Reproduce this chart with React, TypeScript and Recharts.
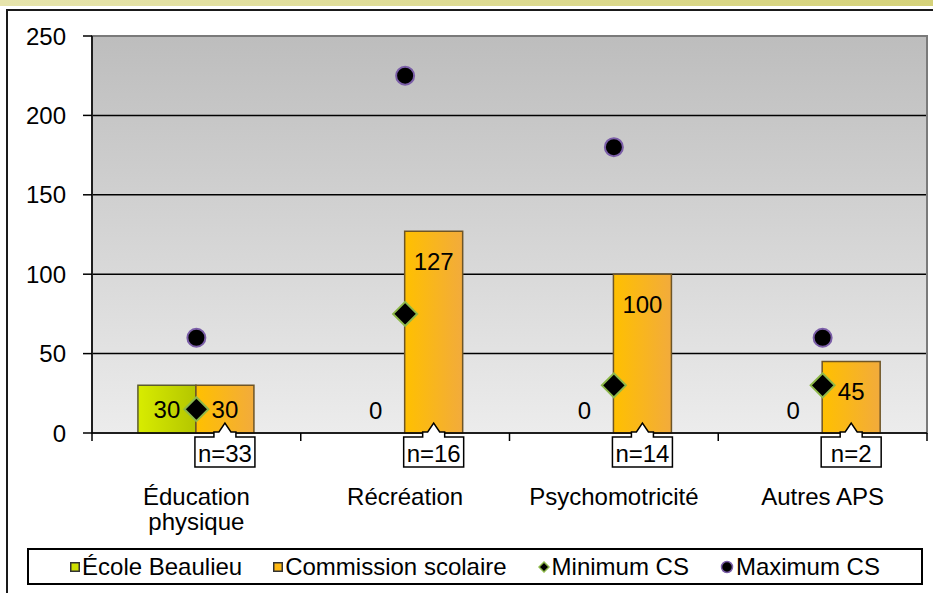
import React from 'react';
import {
  ComposedChart,
  Bar,
  Line,
  XAxis,
  YAxis,
  CartesianGrid,
  Legend,
  LabelList,
  ReferenceArea,
} from 'recharts';

const categories = ['Éducation\nphysique', 'Récréation', 'Psychomotricité', 'Autres APS'];
const ecoleBeaulieu = [30, 0, 0, 0];
const commissionScolaire = [30, 127, 100, 45];
const minimumCS = [15, 75, 30, 30];
const maximumCS = [60, 225, 180, 60];
const sampleSizes = ['n=33', 'n=16', 'n=14', 'n=2'];
const yTicks = [0, 50, 100, 150, 200, 250];
const legendOrder = ['ecole', 'commission', 'min', 'max'];

const data = categories.map((name, i) => ({
  name,
  ecole: ecoleBeaulieu[i],
  commission: commissionScolaire[i],
  min: minimumCS[i],
  max: maximumCS[i],
}));

const FONT = '"Liberation Sans", Arial, sans-serif';

const box = (p: any) => {
  const vb = p.viewBox || p;
  return { x: vb.x ?? p.x, y: vb.y ?? p.y, width: vb.width ?? p.width, height: vb.height ?? p.height };
};

// bar value labels: near the top inside the bar
const ValueLabel = (props: any) => {
  const { x, y, width, height } = box(props);
  if (!height) return null;
  const cx = x + width / 2;
  const cy = Math.min(y + 30, y + height / 2);
  return (
    <text x={cx} y={cy} textAnchor="middle" dominantBaseline="central" fontSize={24} fill="#000">
      {props.value}
    </text>
  );
};

// empty École bars get no rectangle, so their "0" is placed next to the Commission bar
const ZeroLabel = (props: any) => {
  const { x, y, width, height } = box(props);
  const v = ecoleBeaulieu[props.index];
  if (v !== 0) return null;
  return (
    <text x={x - width / 2} y={y + height - 23} textAnchor="middle" dominantBaseline="central" fontSize={24} fill="#000">
      {v}
    </text>
  );
};

// "n=.." callout pointing up at the bar base
const Callout = (props: any) => {
  const { x, y, width, height } = box(props);
  const cx = x + width / 2;
  const base = y + height;
  const top = base + 4;
  const w = 60;
  const h = 30;
  const l = cx - w / 2;
  const r = cx + w / 2;
  const d = `M${l},${top} L${cx - 11},${top} L${cx - 11},${top - 5} L${cx - 6},${top - 5} L${cx},${top - 14} L${cx + 6},${top - 5} L${cx + 11},${top - 5} L${cx + 11},${top} L${r},${top} L${r},${top + h} L${l},${top + h} Z`;
  return (
    <g>
      <path d={d} fill="#fff" stroke="#000" strokeWidth={1.5} />
      <text x={cx} y={top + h / 2 + 1} textAnchor="middle" dominantBaseline="central" fontSize={24} fill="#000">
        {sampleSizes[props.index]}
      </text>
    </g>
  );
};

const diamondPath = (cx: number, cy: number, s: number) =>
  `M${cx},${cy - s} L${cx + s},${cy} L${cx},${cy + s} L${cx - s},${cy} Z`;

const Diamond = (p: any) => (
  <path key={p.key} d={diamondPath(p.cx, p.cy, 12)} fill="#000" stroke="#8db84a" strokeWidth={2} />
);

const Dot = (p: any) => (
  <circle key={p.key} cx={p.cx} cy={p.cy} r={9} fill="#000" stroke="#7b5ea8" strokeWidth={2} />
);

const CategoryTick = (props: any) => {
  const { x, y, payload, index } = props;
  const half = payload.offset ?? 104;
  const lines = String(payload.value).split('\n');
  return (
    <g>
      <line x1={x - half} x2={x - half} y1={y - 8} y2={y} stroke="#000" strokeWidth={1.5} />
      {index === categories.length - 1 && (
        <line x1={x + half} x2={x + half} y1={y - 8} y2={y} stroke="#000" strokeWidth={1.5} />
      )}
      <text x={x} y={y + 64} textAnchor="middle" fontSize={24} fill="#000">
        {lines.map((l, i) => (
          <tspan key={i} x={x} dy={i === 0 ? 0 : 25}>
            {l}
          </tspan>
        ))}
      </text>
    </g>
  );
};

const LegendMarker = ({ dataKey }: { dataKey: string }) => {
  if (dataKey === 'min')
    return (
      <svg width={12} height={14}>
        <path d={diamondPath(6, 7, 5)} fill="#000" stroke="#8db84a" strokeWidth={1.5} />
      </svg>
    );
  if (dataKey === 'max')
    return (
      <svg width={14} height={14}>
        <circle cx={7} cy={7} r={5.5} fill="#000" stroke="#7b5ea8" strokeWidth={1.5} />
      </svg>
    );
  const fill = dataKey === 'ecole' ? '#cde000' : '#ffb914';
  return (
    <svg width={10} height={10}>
      <rect x={0.75} y={0.75} width={8.5} height={8.5} fill={fill} stroke="#333" strokeWidth={1.5} />
    </svg>
  );
};

const LegendBox = (props: any) => {
  const payload = [...(props.payload || [])].sort(
    (a: any, b: any) => legendOrder.indexOf(a.dataKey) - legendOrder.indexOf(b.dataKey),
  );
  return (
    <div
      style={{
        boxSizing: 'border-box',
        height: 37,
        border: '2px solid #000',
        background: '#fff',
        display: 'flex',
        alignItems: 'center',
        justifyContent: 'center',
        gap: 31,
        fontSize: 24,
        fontFamily: FONT,
        paddingTop: 1,
      }}
    >
      {payload.map((e: any) => (
        <span key={e.value} style={{ display: 'flex', alignItems: 'center', gap: 2 }}>
          <LegendMarker dataKey={e.dataKey} />
          <span>{e.value}</span>
        </span>
      ))}
    </div>
  );
};

export default function App() {
  return (
    <div style={{ position: 'absolute', left: 0, top: 0, width: 933, height: 593, background: '#fff', fontFamily: FONT, overflow: 'hidden' }}>
      <div style={{ position: 'absolute', left: 0, top: 0, width: 933, height: 6, background: 'linear-gradient(to right, #e6e4ac, #d5d27a)' }} />
      <div style={{ position: 'absolute', left: 6, top: 9, right: -4, bottom: -4, borderTop: '2px solid #1a1a1a', borderLeft: '2px solid #1a1a1a' }} />
      <div style={{ position: 'absolute', left: 0, top: 0 }}>
        <ComposedChart
          width={933}
          height={593}
          data={data}
          margin={{ top: 36, right: 6, left: 12, bottom: 8 }}
          barCategoryGap="22%"
          barGap={0}
        >
          <defs>
            <linearGradient id="plotBg" x1="0" y1="0" x2="0" y2="1">
              <stop offset="0" stopColor="#bdbdbd" />
              <stop offset="1" stopColor="#ececec" />
            </linearGradient>
            <linearGradient id="ecoleFill" x1="0" y1="0" x2="1" y2="0">
              <stop offset="0" stopColor="#d8ec00" />
              <stop offset="1" stopColor="#b4c600" />
            </linearGradient>
            <linearGradient id="commissionFill" x1="0" y1="0" x2="1" y2="0">
              <stop offset="0" stopColor="#ffc000" />
              <stop offset="1" stopColor="#f2ab3c" />
            </linearGradient>
          </defs>
          <CartesianGrid vertical={false} fill="url(#plotBg)" fillOpacity={1} stroke="#000" strokeWidth={1.5} />
          <ReferenceArea y1={0} y2={250} fill="none" stroke="#7a7a7a" strokeWidth={2} ifOverflow="visible" />
          <XAxis
            dataKey="name"
            height={115}
            tickLine={false}
            tickSize={8}
            tickMargin={0}
            interval={0}
            axisLine={{ stroke: '#000', strokeWidth: 1.5 }}
            tick={<CategoryTick />}
          />
          <YAxis
            width={80}
            domain={[0, 250]}
            ticks={yTicks}
            interval={0}
            tickSize={9}
            tickMargin={17}
            axisLine={{ stroke: '#000', strokeWidth: 1.5 }}
            tickLine={{ stroke: '#000', strokeWidth: 1.5 }}
            tick={{ fontSize: 24, fill: '#000' }}
          />
          <Legend
            verticalAlign="bottom"
            content={<LegendBox />}
            wrapperStyle={{ left: 27, width: 896 }}
          />
          <Bar dataKey="ecole" name="École Beaulieu" fill="url(#ecoleFill)" stroke="#5b5b2e" strokeWidth={1.5} isAnimationActive={false}>
            <LabelList dataKey="ecole" content={<ValueLabel />} />
          </Bar>
          <Bar dataKey="commission" name="Commission scolaire" fill="url(#commissionFill)" stroke="#6e5526" strokeWidth={1.5} isAnimationActive={false}>
            <LabelList dataKey="commission" content={<ValueLabel />} />
            <LabelList dataKey="commission" content={<ZeroLabel />} />
            <LabelList dataKey="commission" content={<Callout />} />
          </Bar>
          <Line dataKey="min" name="Minimum CS" stroke="none" dot={Diamond} activeDot={false} isAnimationActive={false} />
          <Line dataKey="max" name="Maximum CS" stroke="none" dot={Dot} activeDot={false} isAnimationActive={false} />
        </ComposedChart>
      </div>
    </div>
  );
}
